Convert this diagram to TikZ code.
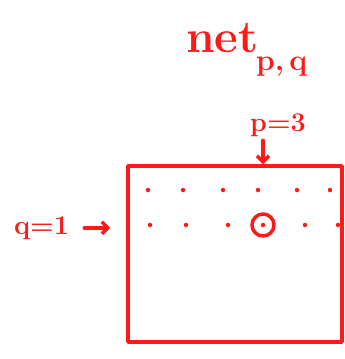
\documentclass[tikz,border=0pt]{standalone}
\usetikzlibrary{arrows.meta, positioning}
\definecolor{inkred}{HTML}{FF1A1A}

\begin{document}
\begin{tikzpicture}[x=1pt, y=-1pt,
    ink/.style={draw=inkred, line width=3.5pt, line cap=round, line join=round},
    hand/.style={text=inkred, inner sep=0pt},
    gridpt/.style={circle, fill=inkred, inner sep=0pt, minimum size=4.5pt},
    pointer/.style={ink, -{Straight Barb[length=6pt, width=12pt]}}
  ]
    \useasboundingbox (0,0) rectangle (345,359);
    % title
    \node[hand, anchor=base west, font=\fontsize{46}{46}\selectfont\bfseries] (title) at (186,52) {net};
    \node[hand, anchor=base west, font=\fontsize{30}{30}\selectfont\bfseries] (sub) at (256,70) {p,\,q};
    % the net
    \node[ink, minimum width=214pt, minimum height=176pt, inner sep=0pt] (net) at (235,254) {};
    \foreach \x [count=\i] in {148,183,223,258,297,330}
      \node[gridpt] (d1-\i) at (\x,190) {};
    \foreach \x [count=\i] in {150,186,228,263,305,338}
      \node[gridpt] (d2-\i) at (\x,225) {};
    \node[ink, circle, minimum size=22pt, inner sep=0pt] (pick) at (d2-4) {};
    % labels
    \node[hand, anchor=base west, font=\fontsize{27}{27}\selectfont\bfseries] (plabel) at (250,131) {p=3};
    \node[hand, anchor=base west, font=\fontsize{27}{27}\selectfont\bfseries] (qlabel) at (14,234) {q=1};
    \draw[pointer] ([yshift=-4pt]plabel.south -| d2-4) -- (d2-4 |- net.north);
    \draw[pointer] ([xshift=15pt]qlabel.east) -- ([xshift=-16pt]qlabel.east -| net.west);
\end{tikzpicture}
\end{document}
